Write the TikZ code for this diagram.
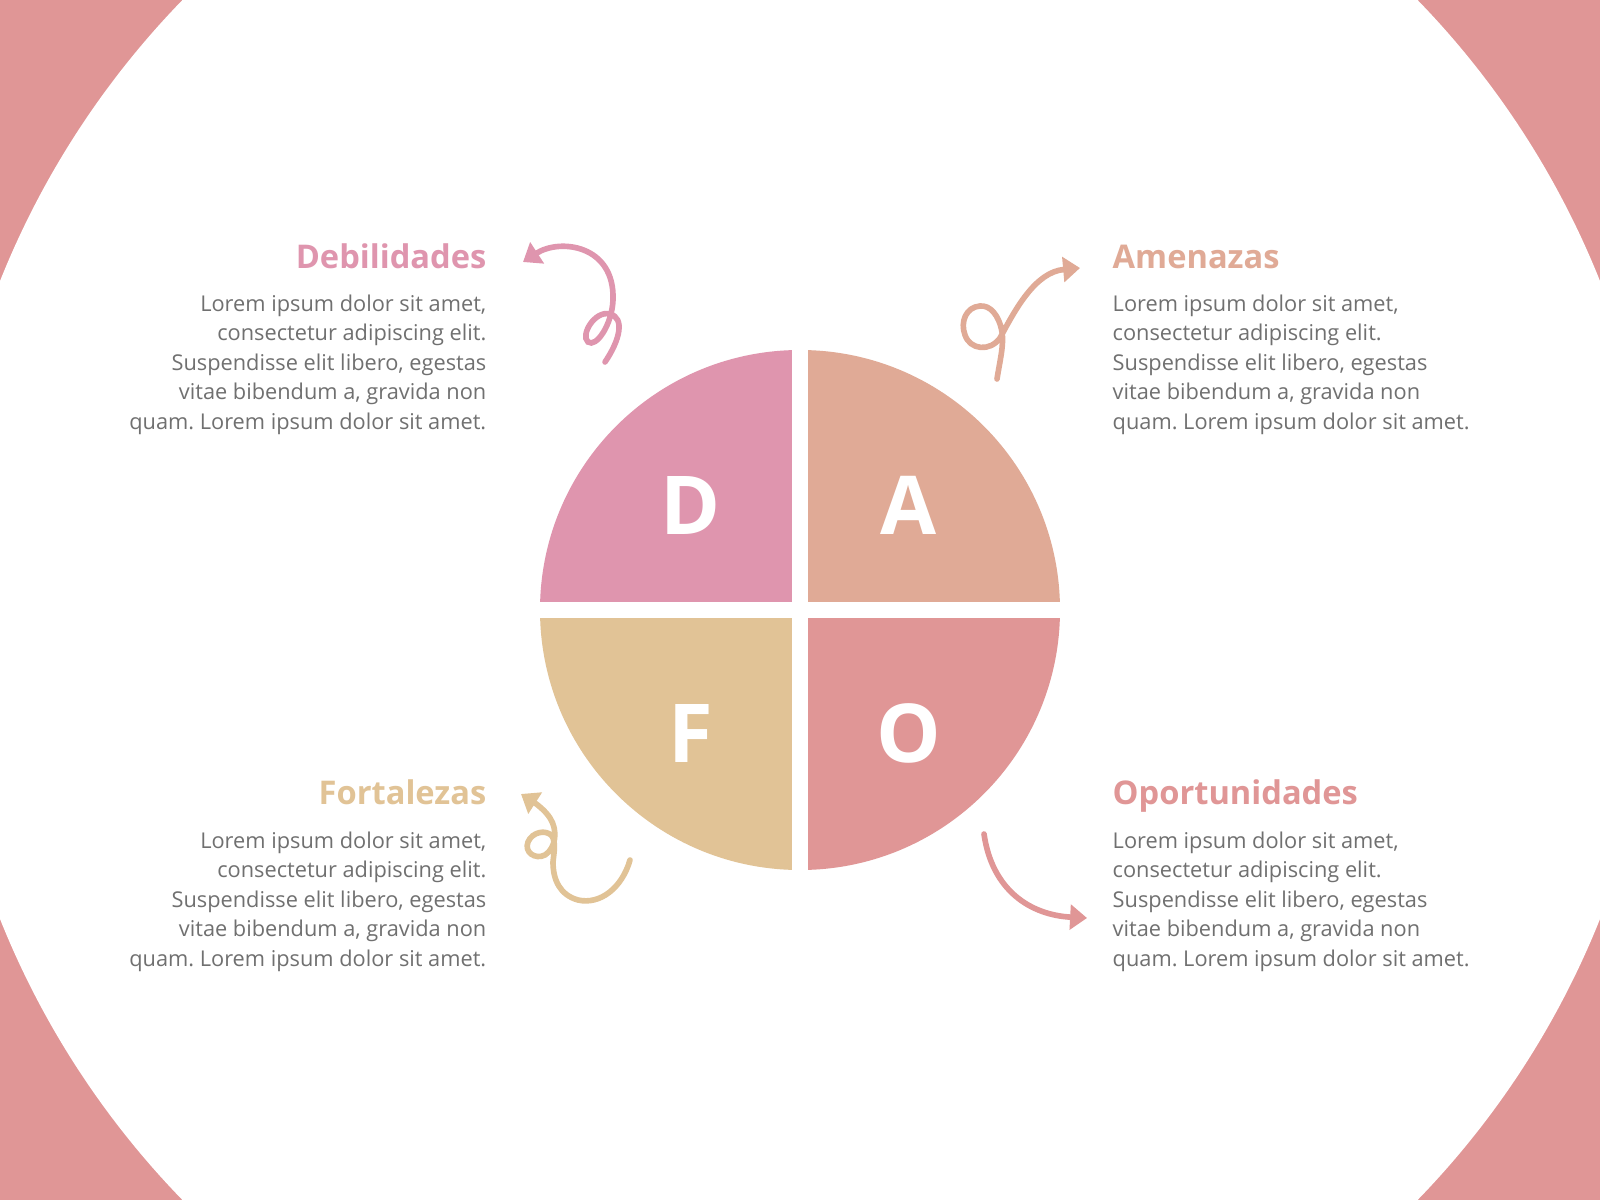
\documentclass[tikz,border=0pt]{standalone}
\usepackage{fontspec}
\setmainfont{Open Sans}
\usetikzlibrary{positioning, arrows.meta}

\definecolor{bgpink}{HTML}{E09696}
\definecolor{dcol}{HTML}{DF95AE}
\definecolor{acol}{HTML}{E0AA96}
\definecolor{fcol}{HTML}{E1C396}
\definecolor{ocol}{HTML}{E09696}
\definecolor{bodygray}{HTML}{707070}

\frenchspacing
\newcommand{\loremtext}{Lorem ipsum dolor sit amet,\\ consectetur adipiscing elit.\\ Suspendisse elit libero, egestas\\ vitae bibendum a, gravida non\\ quam. Lorem ipsum dolor sit amet.}

\tikzset{
  headline/.style={font=\fontsize{9.28pt}{10pt}\selectfont\bfseries, inner sep=0pt},
  body/.style={font=\fontsize{6.19pt}{8.39pt}\selectfont, text=bodygray, inner sep=0pt},
  letter/.style={font=\fontsize{23.1pt}{26pt}\selectfont\bfseries, text=white, inner sep=0pt},
  curl/.style={line width=1.6pt, line cap=round, -{Triangle[length=4.8pt, width=7pt]}},
}

\begin{document}
\begin{tikzpicture}[x=0.01cm, y=-0.01cm]
   \clip (0,0) rectangle (1600,1200);
   % Background
   \fill[bgpink] (0,0) rectangle (1600,1200);
   \fill[white] (800,600) circle[radius=861];

   % The four quarters
   \fill[dcol] (800,610) -- (540,610) arc[start angle=180, end angle=270, radius=260] -- cycle;
   \fill[acol] (800,610) -- (800,350) arc[start angle=270, end angle=360, radius=260] -- cycle;
   \fill[ocol] (800,610) -- (1060,610) arc[start angle=0, end angle=90, radius=260] -- cycle;
   \fill[fcol] (800,610) -- (800,870) arc[start angle=90, end angle=180, radius=260] -- cycle;
   \fill[white] (791.8,340) rectangle (808.2,880);
   \fill[white] (530,601.8) rectangle (1070,618.2);

   % Letters
   \node[letter] (lD) at (691,505) {D};
   \node[letter] (lA) at (909,505) {A};
   \node[letter] (lF) at (691,733) {F};
   \node[letter] (lO) at (909,733) {O};

   % Texts
   \node[headline, text=dcol, anchor=base east] (dTitle) at (487,268) {Debilidades};
   \node[body, align=right] (dBody) [below left=0.26cm and 0cm of dTitle.base east] {\loremtext};
   \node[headline, text=acol, anchor=base west] (aTitle) at (1112,268) {Amenazas};
   \node[body, align=left] (aBody) [below right=0.26cm and 0cm of aTitle.base west] {\loremtext};
   \node[headline, text=fcol, anchor=base east] (fTitle) at (487,804) {Fortalezas};
   \node[body, align=right] (fBody) [below left=0.27cm and 0cm of fTitle.base east] {\loremtext};
   \node[headline, text=ocol, anchor=base west] (oTitle) at (1112,804) {Oportunidades};
   \node[body, align=left] (oBody) [below right=0.27cm and 0cm of oTitle.base west] {\loremtext};

   % Curly arrows
   \coordinate (dTail) at (605,362);
   \coordinate (dTip) at (523,262);
   \draw[curl, dcol] (dTail) .. controls (620,340) and (625,318) .. (610,314)
      .. controls (595,310) and (580,335) .. (588,342)
      .. controls (596,348) and (612,325) .. (613,300)
      .. controls (615,245) and (560,238) .. (dTip);

   \coordinate (aTail) at (997,379);
   \coordinate (aTip) at (1080,268);
   \draw[curl, acol] (aTail) .. controls (1000,360) and (1004,345) .. (1002,332)
      .. controls (999,315) and (990,305) .. (980,306)
      .. controls (966,307) and (960,322) .. (965,335)
      .. controls (970,350) and (990,352) .. (1000,338)
      .. controls (1015,310) and (1035,272) .. (aTip);

   \coordinate (fTail) at (630,860);
   \coordinate (fTip) at (521,794);
   \draw[curl, fcol] (fTail) .. controls (622,888) and (600,905) .. (578,900)
      .. controls (560,895) and (553,880) .. (553,862)
      .. controls (554,852) and (556,843) .. (552,836)
      .. controls (546,829) and (532,832) .. (528,842)
      .. controls (524,852) and (535,860) .. (545,855)
      .. controls (556,848) and (558,830) .. (550,818)
      .. controls (545,810) and (535,803) .. (fTip);

   \coordinate (oTail) at (984,834);
   \coordinate (oTip) at (1087,918);
   \draw[curl, ocol] (oTail) .. controls (992,890) and (1030,915) .. (oTip);
\end{tikzpicture}
\end{document}
